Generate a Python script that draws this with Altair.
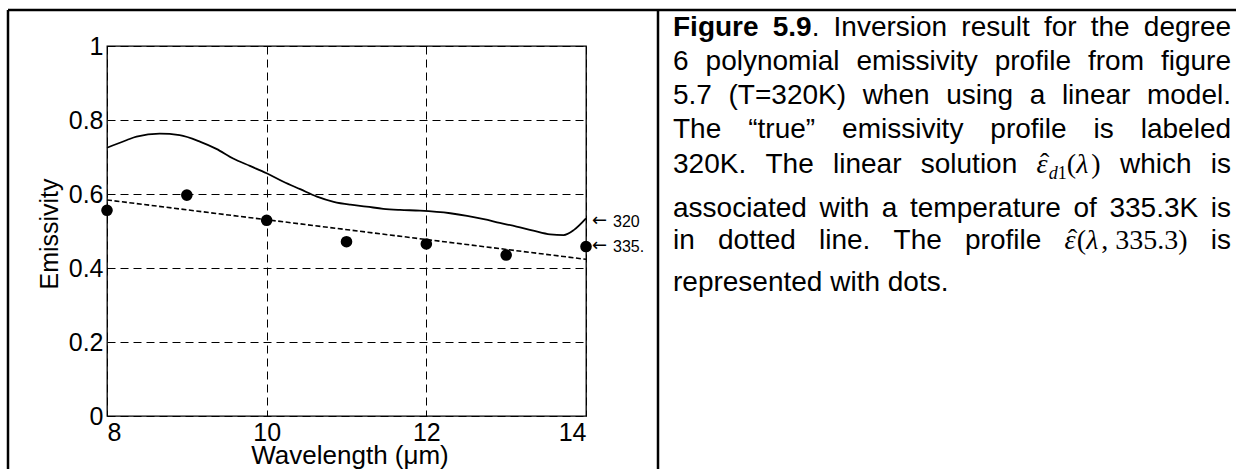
import altair as alt
import pandas as pd

# ---------------------------------------------------------------------------
# Data
# ---------------------------------------------------------------------------
# "True" emissivity profile (degree-6 polynomial, T = 320 K)
wl_true = [8.0, 8.25, 8.37, 8.66, 8.91, 9.17, 9.37, 9.58, 9.79, 10.0, 10.21,
           10.42, 10.63, 10.84, 11.05, 11.25, 11.46, 11.67, 11.92, 12.3, 12.51,
           12.72, 12.92, 13.13, 13.34, 13.55, 13.72, 13.85, 14.0]
eps_true = [0.725, 0.746, 0.755, 0.763, 0.759, 0.741, 0.722, 0.696, 0.676,
            0.656, 0.633, 0.613, 0.593, 0.579, 0.571, 0.566, 0.560, 0.557,
            0.555, 0.548, 0.541, 0.532, 0.522, 0.512, 0.501, 0.491, 0.489,
            0.503, 0.534]

# Linear-model solution (T = 335.3 K)
wl_lin = [8.0, 14.0]
eps_lin = [0.584, 0.4235]

# Profile at T = 335.3 K, one value per channel
wl_dots = [8, 9, 10, 11, 12, 13, 14]
eps_dots = [0.556, 0.597, 0.529, 0.471, 0.465, 0.435, 0.458]

# Labels at the right end of the curves
end_labels = ["320", "335."]
end_wl = [14, 14]
end_eps = [0.524, 0.457]

x_ticks = [8, 10, 12, 14]
y_ticks = [0, 0.2, 0.4, 0.6, 0.8, 1]

# ---------------------------------------------------------------------------
# Figure geometry (pixels)
# ---------------------------------------------------------------------------
FIG_W, FIG_H = 1236, 469
LEFT, TOP = 107, 46
PLOT_W, PLOT_H = 479, 370
BOX_LEFT, BOX_TOP, BOX_SPLIT = 8, 10, 658

SANS = "Liberation Sans"
SERIF = "Liberation Serif"

x_scale = alt.Scale(domain=[8, 14], nice=False, zero=False)
y_scale = alt.Scale(domain=[0, 1], nice=False)

true_df = pd.DataFrame({"wl": wl_true, "eps": eps_true})
lin_df = pd.DataFrame({"wl": wl_lin, "eps": eps_lin})
dots_df = pd.DataFrame({"wl": wl_dots, "eps": eps_dots})
end_df = pd.DataFrame({"wl": end_wl, "eps": end_eps, "label": end_labels})

curve = alt.Chart(true_df).mark_line(
    color="black", strokeWidth=1.8, interpolate="monotone"
).encode(
    x=alt.X("wl:Q", scale=x_scale,
            axis=alt.Axis(values=x_ticks, title=None, format="~g")),
    y=alt.Y("eps:Q", scale=y_scale,
            axis=alt.Axis(values=y_ticks, title=None, format="~g")),
)

linear = alt.Chart(lin_df).mark_line(
    color="black", strokeWidth=1.6, strokeDash=[5, 2.5]
).encode(x="wl:Q", y="eps:Q")

dots = alt.Chart(dots_df).mark_circle(
    color="black", size=135, opacity=1
).encode(x="wl:Q", y="eps:Q")

# End labels: a left arrow followed by the temperature
end_arrows = alt.Chart(end_df).mark_text(
    align="left", baseline="middle", dx=6, dy=-1, font="DejaVu Sans",
    fontSize=18, color="black", text="\u2190"
).encode(x="wl:Q", y="eps:Q")

end_text = alt.Chart(end_df).mark_text(
    align="left", baseline="middle", dx=27, font=SANS, fontSize=16,
    color="black"
).encode(x="wl:Q", y="eps:Q", text="label:N")

# Axis titles
y_title = alt.Chart(pd.DataFrame({"t": ["Emissivity"]})).mark_text(
    angle=270, align="center", baseline="alphabetic", font=SANS,
    fontSize=25, color="black"
).encode(x=alt.value(58 - LEFT), y=alt.value(234 - TOP), text="t:N")

x_title = alt.Chart(pd.DataFrame({"t": ["Wavelength (\u03bcm)"]})).mark_text(
    align="center", baseline="alphabetic", font=SANS, fontSize=26,
    color="black"
).encode(x=alt.value(350 - LEFT), y=alt.value(464 - TOP), text="t:N")


# Border around the figure panel and the split to the caption
def rule(x1, y1, x2, y2):
    return alt.Chart(pd.DataFrame({"k": [0]})).mark_rule(
        color="black", strokeWidth=2.5
    ).encode(x=alt.value(x1 - LEFT), y=alt.value(y1 - TOP),
             x2=alt.value(x2 - LEFT), y2=alt.value(y2 - TOP))


border = [
    rule(BOX_LEFT, BOX_TOP, FIG_W, BOX_TOP),
    rule(BOX_LEFT, BOX_TOP, BOX_LEFT, FIG_H),
    rule(BOX_SPLIT, BOX_TOP, BOX_SPLIT, FIG_H),
]

# ---------------------------------------------------------------------------
# Caption (justified paragraph, laid out word by word)
# ---------------------------------------------------------------------------
STYLES = {
    "sr": dict(font=SANS, size=28, weight="normal", style="normal", dy=0),
    "sb": dict(font=SANS, size=28, weight="bold", style="normal", dy=0),
    "mi": dict(font=SERIF, size=28, weight="normal", style="italic", dy=0),
    "mr": dict(font=SERIF, size=28, weight="normal", style="normal", dy=0),
    "si": dict(font=SERIF, size=18, weight="normal", style="italic", dy=6),
    "sn": dict(font=SERIF, size=18, weight="normal", style="normal", dy=6),
    "hat": dict(font=SERIF, size=28, weight="normal", style="normal", dy=-1),
}

_sans = dict(zip("abcdefghijklmnopqrstuvwxyz",
                 [556, 556, 500, 556, 556, 278, 556, 556, 222, 222, 500, 222, 833,
                  556, 556, 556, 556, 333, 500, 278, 556, 500, 722, 500, 500, 500]))
_sans.update({c: 556 for c in "0123456789"})
_sans.update({" ": 278, ".": 278, ",": 278, "(": 333, ")": 333, "=": 584,
              "\u201c": 333, "\u201d": 333, "K": 667, "T": 611, "I": 278, "F": 611})
_bold = dict(_sans)
_bold.update({"i": 278, "g": 611, "u": 611, "r": 389})
_serif = {c: 500 for c in "0123456789"}
_serif.update({"(": 333, ")": 333, ",": 250, ".": 250, " ": 250,
               "\u03bb": 540, "\u03b5": 440, "d": 500})
WIDTHS = {"sr": _sans, "sb": _bold, "mi": _serif, "mr": _serif,
          "si": _serif, "sn": _serif, "hat": _serif}


def run_width(text, sty):
    table = WIDTHS[sty]
    return sum(table.get(ch, 556) for ch in text) * STYLES[sty]["size"] / 1000


def plain(s):
    return [[(w, "sr")] for w in s.split()]


eps_d1 = [("\u03b5", "mi"), ("d", "si"), ("1", "sn"),
          ("(", "mr"), ("\u03bb", "mi"), (")", "mr")]
eps_T = [("\u03b5", "mi"), ("(", "mr"), ("\u03bb", "mi"),
         (", 335.3", "mr"), (")", "mr")]

caption_lines = [
    [[("Figure", "sb")], [("5.9", "sb"), (".", "sr")]]
    + plain("Inversion result for the degree"),
    plain("6 polynomial emissivity profile from figure"),
    plain("5.7 (T=320K) when using a linear model."),
    plain("The \u201ctrue\u201d emissivity profile is labeled"),
    plain("320K. The linear solution") + [eps_d1] + plain("which is"),
    plain("associated with a temperature of 335.3K is"),
    plain("in dotted line. The profile") + [eps_T] + plain("is"),
    plain("represented with dots."),
]
justified = [True, True, True, True, True, True, True, False]
CAP_LEFT, CAP_RIGHT = 673, 1231
CAP_BASE = [36, 70, 104, 138, 173, 217, 249, 291]

rows = []
for i, words in enumerate(caption_lines):
    widths = [sum(run_width(t, s) for t, s in w) for w in words]
    if justified[i]:
        gap = (CAP_RIGHT - CAP_LEFT - sum(widths)) / (len(words) - 1)
    else:
        gap = run_width(" ", "sr")
    x = CAP_LEFT
    for w, ww in zip(words, widths):
        cx = x
        for t, s in w:
            rw = run_width(t, s)
            rows.append(dict(text=t, sty=s, px=cx - LEFT,
                             py=CAP_BASE[i] + STYLES[s]["dy"] - TOP))
            if t == "\u03b5":
                rows.append(dict(text="\u02c6", sty="hat",
                                 px=cx + rw / 2 + 2 - LEFT,
                                 py=CAP_BASE[i] + STYLES["hat"]["dy"] - TOP))
            cx += rw
        x += ww + gap

caption_df = pd.DataFrame(rows)

caption_layers = []
for sty, spec in STYLES.items():
    sub = caption_df[caption_df["sty"] == sty]
    if sub.empty:
        continue
    caption_layers.append(
        alt.Chart(sub).mark_text(
            align="center" if sty == "hat" else "left",
            baseline="alphabetic", font=spec["font"], fontSize=spec["size"],
            fontWeight=spec["weight"], fontStyle=spec["style"], color="black"
        ).encode(
            x=alt.X("px:Q", scale=None),
            y=alt.Y("py:Q", scale=None),
            text="text:N",
        )
    )

chart = alt.layer(
    curve, linear, dots, end_arrows, end_text, y_title, x_title, *border,
    *caption_layers
).properties(
    width=PLOT_W,
    height=PLOT_H,
    autosize=alt.AutoSizeParams(type="none"),
    padding={"left": LEFT, "top": TOP,
             "right": FIG_W - LEFT - PLOT_W, "bottom": FIG_H - TOP - PLOT_H},
    background="white",
).configure_view(
    stroke="black", strokeWidth=1.3
).configure_axis(
    labelFont=SANS, labelFontSize=25, labelColor="black", labelPadding=4,
    domain=False, ticks=False, tickSize=0,
    grid=True, gridColor="black", gridDash=[8, 5], gridWidth=1, gridOpacity=1,
)

chart.save("out.html", embed_options={"renderer": "svg", "actions": False})
